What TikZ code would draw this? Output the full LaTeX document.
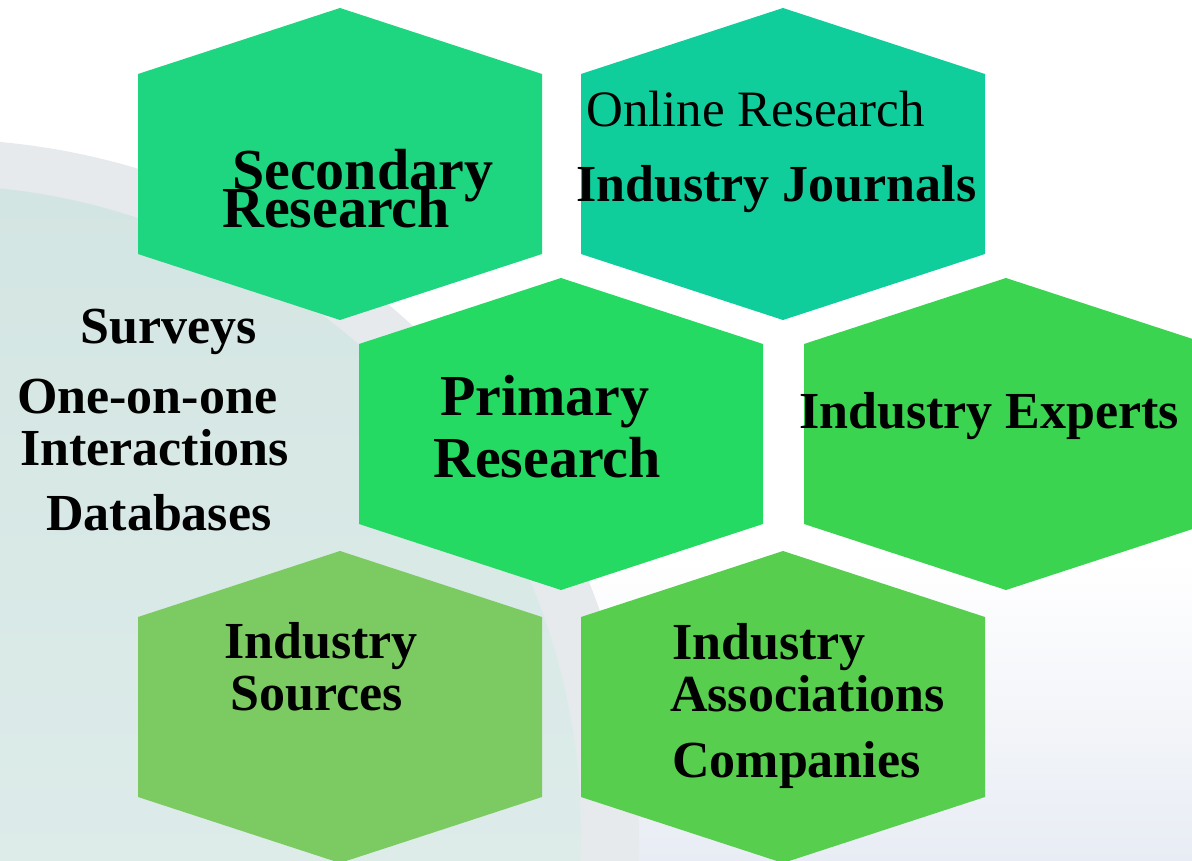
\documentclass[tikz,border=0pt]{standalone}
\usepackage{fontspec}
\setmainfont{Liberation Serif}
\usetikzlibrary{math}
% cell colours
\definecolor{hexsec}{HTML}{1ED580}
\definecolor{hexonl}{HTML}{10CE9C}
\definecolor{hexpri}{HTML}{25DA62}
\definecolor{hexexp}{HTML}{3AD450}
\definecolor{hexsrc}{HTML}{7CCB62}
\definecolor{hexass}{HTML}{57CE4E}
% background colours
\definecolor{bandgray}{HTML}{E6EAED}
\definecolor{bandmint}{HTML}{D3E5E2}
\definecolor{bandmintlt}{HTML}{E6F2F0}
\definecolor{floorblue}{HTML}{E8ECF4}
\tikzset{%
  % label line, placed at its baseline
  lbl/.style={anchor=base west, inner sep=0pt, text=black,
    font=\fontsize{52}{52}\selectfont\bfseries},
  % larger heading inside a cell
  lblbig/.style={lbl, font=\fontsize{58}{58}\selectfont\bfseries},
  % upright, not bold
  lblplain/.style={lbl, font=\fontsize{51}{51}\selectfont},
}

\begin{document}
\begin{tikzpicture}[x=1pt, y=-1pt]
  \tikzmath{\hw = 202; \hs = 90; \hv = 156;}
  \useasboundingbox (0,0) rectangle (1192,861);

  % background bands
  \begin{scope}
    \clip (0,0) rectangle (1192,861);
    \shade[top color=white, bottom color=floorblue] (0,560) rectangle (1192,861);
    \fill[bandgray] (-65,843) circle[radius=704];
    \shade[top color=bandmint, bottom color=bandmintlt] (-67,833) circle[radius=648];
  \end{scope}

  % the six cells
  \foreach \cx/\cy/\col [count=\i] in {340/164/hexsec, 783/164/hexonl, 561/434/hexpri,
      1006/434/hexexp, 340/707/hexsrc, 783/707/hexass} {
    \coordinate (hex\i) at (\cx,\cy);
    \fill[\col] (hex\i) +(0,-\hv) -- +(\hw,-\hs) -- +(\hw,\hs) -- +(0,\hv)
      -- +(-\hw,\hs) -- +(-\hw,-\hs) -- cycle;
  }

  \node[lblbig] (secA) at (232,190) {Secondary};
  \node[lblbig] (secB) at (222,228) {Research};

  \node[lblplain] (onlA) at (586,127) {Online Research};
  \node[lbl] (onlB) at (576,202) {Industry Journals};

  \node[lbl] (lftA) at (80,343) {Surveys};
  \node[lbl] (lftB) at (17,413) {One-on-one};
  \node[lbl] (lftC) at (20,465) {Interactions};
  \node[lbl] (lftD) at (46,530) {Databases};

  \node[lblbig] (priA) at (440,415) {Primary};
  \node[lblbig] (priB) at (433,477) {Research};

  \node[lbl] (expA) at (799,428) {Industry Experts};

  \node[lbl] (srcA) at (224,658) {Industry};
  \node[lbl] (srcB) at (230,710) {Sources};

  \node[lbl] (assA) at (672,659) {Industry};
  \node[lbl] (assB) at (670,711) {Associations};
  \node[lbl] (assC) at (672,777) {Companies};
\end{tikzpicture}
\end{document}
